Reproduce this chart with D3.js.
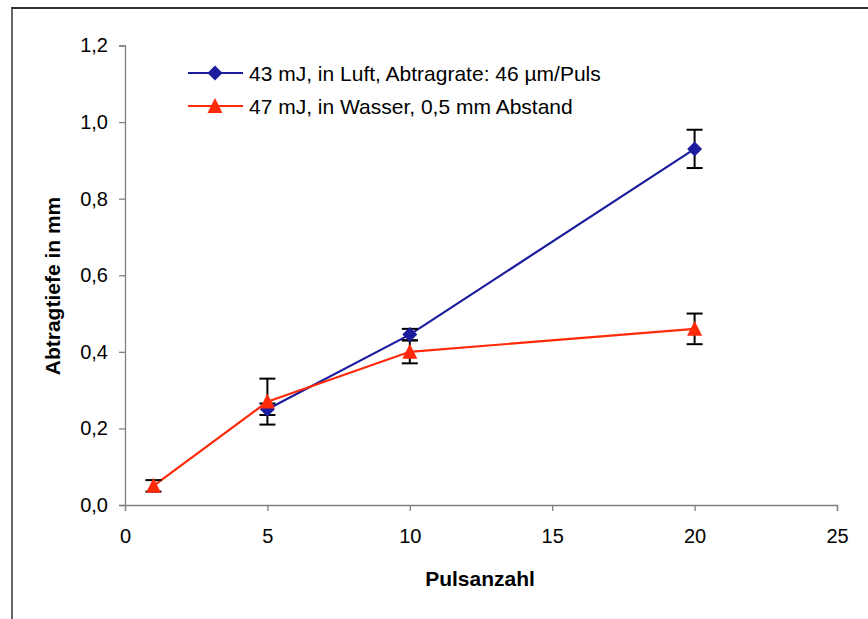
<!DOCTYPE html>
<html><head><meta charset="utf-8">
<script src="https://cdn.jsdelivr.net/npm/d3@7"></script>
<style>body{margin:0;background:#fff}svg{display:block}text{font-family:"Liberation Sans",Arial,sans-serif}</style>
</head><body><svg id="c" width="868" height="619"></svg>
<script>
const xTicks=[0,5,10,15,20,25];
const yTicks=[0,0.2,0.4,0.6,0.8,1.0,1.2];
const seriesNames=["43 mJ, in Luft, Abtragrate: 46 µm/Puls","47 mJ, in Wasser, 0,5 mm Abstand"];
const blueX=[5,10,20];
const blueY=[0.25,0.445,0.93];
const blueErr=[0.015,0.015,0.05];
const redX=[1,5,10,20];
const redY=[0.05,0.27,0.40,0.46];
const redErr=[0.015,0.06,0.03,0.04];
const colors=["#1c1c9e","#ff2a0a"];

const svg=d3.select("#c");
// frame
svg.append("line").attr("x1",12).attr("x2",868).attr("y1",8).attr("y2",8).attr("stroke","#333").attr("stroke-width",2);
svg.append("line").attr("x1",12).attr("x2",12).attr("y1",7).attr("y2",619).attr("stroke","#000").attr("stroke-width",1.2);

const x=d3.scaleLinear().domain([0,25]).range([125,837]);
const y=d3.scaleLinear().domain([0,1.2]).range([505,45.5]);
const fmt=d=>d3.format(".1f")(d).replace(".",",");

const gx=svg.append("g").attr("transform","translate(0,505)")
 .call(d3.axisBottom(x).tickValues(xTicks).tickSizeOuter(0).tickSize(6).tickPadding(18));
const gy=svg.append("g").attr("transform","translate(125,0)")
 .call(d3.axisLeft(y).tickValues(yTicks).tickFormat(fmt).tickSizeOuter(0).tickSize(6).tickPadding(11));
[gx,gy].forEach(g=>{g.select(".domain").attr("stroke","#808080").attr("stroke-width",1.3);
 g.selectAll(".tick line").attr("stroke","#808080").attr("stroke-width",1.3);
 g.selectAll("text").attr("font-size",20).attr("fill","#000").style("font-family","'Liberation Sans',Arial,sans-serif");});

function drawSeries(xs,ys,es,color){
 const pts=xs.map((v,i)=>({x:v,y:ys[i],e:es[i]}));
 svg.append("path").datum(pts).attr("fill","none").attr("stroke",color).attr("stroke-width",2.2)
  .attr("d",d3.line().x(d=>x(d.x)).y(d=>y(d.y)));
 return pts;
}
function drawErr(pts){
 const g=svg.append("g").attr("stroke","#000").attr("stroke-width",2);
 pts.forEach(d=>{
  g.append("line").attr("x1",x(d.x)).attr("x2",x(d.x)).attr("y1",y(d.y-d.e)).attr("y2",y(d.y+d.e));
  [d.y-d.e,d.y+d.e].forEach(v=>g.append("line").attr("x1",x(d.x)-8).attr("x2",x(d.x)+8).attr("y1",y(v)).attr("y2",y(v)));
 });
}
const DIA="M0,-7.5L7.5,0L0,7.5L-7.5,0Z", TRI="M0,-8L7.5,7L-7.5,7Z";
function drawMarkers(pts,color,shape){
 svg.append("g").selectAll("path").data(pts).join("path")
  .attr("transform",d=>`translate(${x(d.x)},${y(d.y)})`)
  .attr("d",shape==="diamond"?DIA:TRI)
  .attr("fill",color);
}
const bp=drawSeries(blueX,blueY,blueErr,colors[0]);
const rp=drawSeries(redX,redY,redErr,colors[1]);
drawErr(bp);drawErr(rp);
drawMarkers(bp,colors[0],"diamond");
drawMarkers(rp,colors[1],"triangle");

// legend
const leg=[{c:colors[0],s:"diamond",yy:73},{c:colors[1],s:"triangle",yy:106}];
leg.forEach((l,i)=>{
 svg.append("line").attr("x1",188).attr("x2",243).attr("y1",l.yy).attr("y2",l.yy).attr("stroke",l.c).attr("stroke-width",2.2);
 svg.append("path").attr("transform",`translate(215,${l.yy})`)
  .attr("d",l.s==="diamond"?DIA:TRI).attr("fill",l.c);
 svg.append("text").attr("x",249).attr("y",l.yy+7.5).attr("font-size",21).text(seriesNames[i]);
});

// titles
svg.append("text").attr("x",480).attr("y",586).attr("text-anchor","middle").attr("font-size",21).attr("font-weight","bold").text("Pulsanzahl");
svg.append("text").attr("transform","translate(60,286) rotate(-90)").attr("text-anchor","middle").attr("font-size",21).attr("font-weight","bold").text("Abtragtiefe in mm");
</script></body></html>
